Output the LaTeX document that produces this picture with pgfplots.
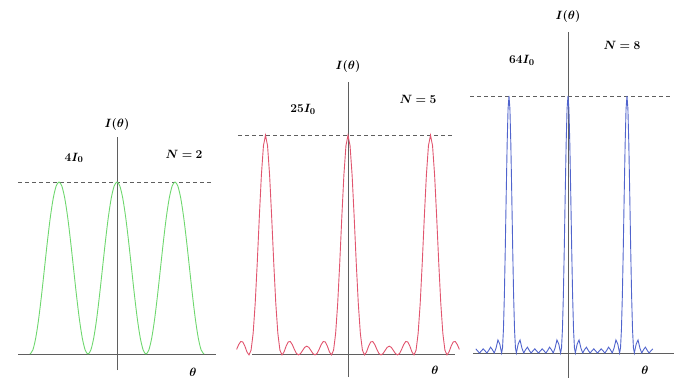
\documentclass[border=0pt]{standalone}
\usepackage{pgfplots}
\pgfplotsset{compat=1.18}
\usepackage{bm}
\definecolor{cgreen}{RGB}{110,215,110}
\definecolor{cred}{RGB}{225,85,110}
\definecolor{cblue}{RGB}{80,100,205}
\definecolor{caxis}{RGB}{95,95,95}
\tikzset{lbl/.style={font=\fontsize{13}{15}\selectfont}}
\pgfplotsset{
  panel/.style={
    scale only axis, axis lines=middle, axis line style={caxis, line width=0.9pt, -},
    xtick=\empty, ytick=\empty, clip=false, anchor=south west,
    every axis plot/.append style={line width=0.9pt},
  },
}
\begin{document}
\begin{tikzpicture}[x=1pt,y=1pt]
\useasboundingbox (0,0) rectangle (681,378);
% ---------------- N = 2 ----------------
\begin{axis}[panel, at={(18pt,8pt)}, width=198pt, height=233pt,
  xmin=-1.707, xmax=1.707, ymin=-0.372, ymax=5.047]
\addplot[caxis, line width=0.8pt, dash pattern=on 4pt off 3pt] coordinates {(-1.707,4) (1.66,4)};
\addplot[cgreen, smooth] table {
x y
-1.5 0
-1.45 0.098
-1.4 0.382
-1.35 0.824
-1.3 1.382
-1.25 2
-1.2 2.618
-1.15 3.176
-1.1 3.618
-1.05 3.902
-1 4
-0.95 3.902
-0.9 3.618
-0.85 3.176
-0.8 2.618
-0.75 2
-0.7 1.382
-0.65 0.824
-0.6 0.382
-0.55 0.098
-0.5 0
-0.45 0.098
-0.4 0.382
-0.35 0.824
-0.3 1.382
-0.25 2
-0.2 2.618
-0.15 3.176
-0.1 3.618
-0.05 3.902
0 4
0.05 3.902
0.1 3.618
0.15 3.176
0.2 2.618
0.25 2
0.3 1.382
0.35 0.824
0.4 0.382
0.45 0.098
0.5 0
0.55 0.098
0.6 0.382
0.65 0.824
0.7 1.382
0.75 2
0.8 2.618
0.85 3.176
0.9 3.618
0.95 3.902
1 4
1.05 3.902
1.1 3.618
1.15 3.176
1.2 2.618
1.25 2
1.3 1.382
1.35 0.824
1.4 0.382
1.45 0.098
1.5 0
};
\node[lbl] at (axis cs:0,5.33) {$\bm{I(\theta)}$};
\node[lbl] at (axis cs:-0.74,4.56) {$\bm{4I_0}$};
\node[lbl] at (axis cs:1.155,4.65) {$\bm{N=2}$};
\node[lbl] at (axis cs:1.31,-0.42) {$\bm{\theta}$};
\end{axis}
% ---------------- N = 5 ----------------
\begin{axis}[panel, at={(252pt,1pt)}, width=203pt, height=295pt,
  xmin=-1.1636, xmax=1.297, ymin=-2.511, ymax=31.05]
\addplot[caxis, line width=0.8pt, dash pattern=on 4pt off 3pt] coordinates {(-1.333,25) (1.273,25)};
\addplot[cred] table {
x y
-1.35 0.630
-1.325 1.174
-1.3 1.528
-1.275 1.476
-1.25 1.0
-1.225 0.347
-1.2 0
-1.175 0.536
-1.15 2.426
-1.125 5.828
-1.1 10.47
-1.075 15.66
-1.05 20.43
-1.025 23.79
-1 25
-0.975 23.79
-0.95 20.43
-0.925 15.66
-0.9 10.47
-0.875 5.828
-0.85 2.426
-0.825 0.536
-0.8 0
-0.775 0.347
-0.75 1.0
-0.725 1.476
-0.7 1.528
-0.675 1.174
-0.65 0.630
-0.625 0.172
-0.6 0
-0.575 0.155
-0.55 0.513
-0.525 0.859
-0.5 1
-0.475 0.859
-0.45 0.513
-0.425 0.155
-0.4 0
-0.375 0.172
-0.35 0.630
-0.325 1.174
-0.3 1.528
-0.275 1.476
-0.25 1.0
-0.225 0.347
-0.2 0
-0.175 0.536
-0.15 2.426
-0.125 5.828
-0.1 10.47
-0.075 15.66
-0.05 20.43
-0.025 23.79
0 25
0.025 23.79
0.05 20.43
0.075 15.66
0.1 10.47
0.125 5.828
0.15 2.426
0.175 0.536
0.2 0
0.225 0.347
0.25 1.0
0.275 1.476
0.3 1.528
0.325 1.174
0.35 0.630
0.375 0.172
0.4 0
0.425 0.155
0.45 0.513
0.475 0.859
0.5 1
0.525 0.859
0.55 0.513
0.575 0.155
0.6 0
0.625 0.172
0.65 0.630
0.675 1.174
0.7 1.528
0.725 1.476
0.75 1.0
0.775 0.347
0.8 0
0.825 0.536
0.85 2.426
0.875 5.828
0.9 10.47
0.925 15.66
0.95 20.43
0.975 23.79
1 25
1.025 23.79
1.05 20.43
1.075 15.66
1.1 10.47
1.125 5.828
1.15 2.426
1.175 0.536
1.2 0
1.225 0.347
1.25 1.0
1.275 1.476
1.3 1.528
1.325 1.174
1.35 0.630
};
\node[lbl] at (axis cs:0,32.76) {$\bm{I(\theta)}$};
\node[lbl] at (axis cs:-0.545,27.97) {$\bm{25I_0}$};
\node[lbl] at (axis cs:0.848,29.1) {$\bm{N=5}$};
\node[lbl] at (axis cs:1.055,-1.71) {$\bm{\theta}$};
\end{axis}
% ---------------- N = 8 ----------------
\begin{axis}[panel, at={(473pt,0pt)}, width=201pt, height=346pt,
  xmin=-1.610, xmax=1.797, ymin=-6.226, ymax=79.94]
\addplot[caxis, line width=0.8pt, dash pattern=on 4pt off 3pt] coordinates {(-1.66,64) (1.73,64)};
\addplot[cblue] table {
x y
-1.5625 1.040
-1.53125 0.505
-1.5 0
-1.46875 0.505
-1.4375 1.040
-1.40625 0.546
-1.375 0
-1.34375 0.643
-1.3125 1.447
-1.28125 0.837
-1.25 0
-1.21875 1.242
-1.1875 3.240
-1.15625 2.250
-1.125 0
-1.109375 1.290
-1.09375 5.934
-1.078125 14.46
-1.0625 26.27
-1.046875 39.65
-1.03125 52.04
-1.015625 60.83
-1 64
-0.984375 60.83
-0.96875 52.04
-0.953125 39.65
-0.9375 26.27
-0.921875 14.46
-0.90625 5.934
-0.890625 1.290
-0.875 0
-0.84375 2.250
-0.8125 3.240
-0.78125 1.242
-0.75 0
-0.71875 0.837
-0.6875 1.447
-0.65625 0.643
-0.625 0
-0.59375 0.546
-0.5625 1.040
-0.53125 0.505
-0.5 0
-0.46875 0.505
-0.4375 1.040
-0.40625 0.546
-0.375 0
-0.34375 0.643
-0.3125 1.447
-0.28125 0.837
-0.25 0
-0.21875 1.242
-0.1875 3.240
-0.15625 2.250
-0.125 0
-0.109375 1.290
-0.09375 5.934
-0.078125 14.46
-0.0625 26.27
-0.046875 39.65
-0.03125 52.04
-0.015625 60.83
0 64
0.015625 60.83
0.03125 52.04
0.046875 39.65
0.0625 26.27
0.078125 14.46
0.09375 5.934
0.109375 1.290
0.125 0
0.15625 2.250
0.1875 3.240
0.21875 1.242
0.25 0
0.28125 0.837
0.3125 1.447
0.34375 0.643
0.375 0
0.40625 0.546
0.4375 1.040
0.46875 0.505
0.5 0
0.53125 0.505
0.5625 1.040
0.59375 0.546
0.625 0
0.65625 0.643
0.6875 1.447
0.71875 0.837
0.75 0
0.78125 1.242
0.8125 3.240
0.84375 2.250
0.875 0
0.890625 1.290
0.90625 5.934
0.921875 14.46
0.9375 26.27
0.953125 39.65
0.96875 52.04
0.984375 60.83
1 64
1.015625 60.83
1.03125 52.04
1.046875 39.65
1.0625 26.27
1.078125 14.46
1.09375 5.934
1.109375 1.290
1.125 0
1.15625 2.250
1.1875 3.240
1.21875 1.242
1.25 0
1.28125 0.837
1.3125 1.447
1.34375 0.643
1.375 0
1.40625 0.546
1.4375 1.040
};
\node[lbl] at (axis cs:0,83.7) {$\bm{I(\theta)}$};
\node[lbl] at (axis cs:-0.78,72.97) {$\bm{64I_0}$};
\node[lbl] at (axis cs:0.915,76.7) {$\bm{N=8}$};
\node[lbl] at (axis cs:1.305,-4.23) {$\bm{\theta}$};
\end{axis}
\end{tikzpicture}
\end{document}
